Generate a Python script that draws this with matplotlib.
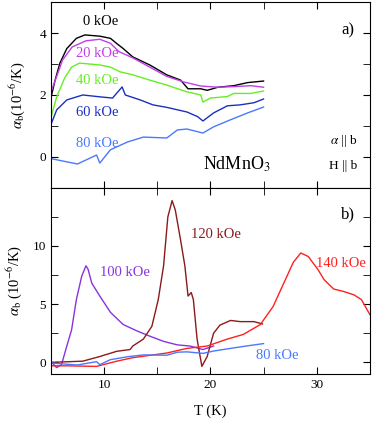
import matplotlib
matplotlib.use("Agg")
import matplotlib.pyplot as plt
from matplotlib.ticker import MultipleLocator, FixedLocator

plt.rcParams['font.family'] = ['Liberation Serif', 'DejaVu Serif']
plt.rcParams['mathtext.fontset'] = 'stix'

# ---- panel a) data ----
T0 = [5.07, 5.4, 5.85, 6.5, 7.4, 8.2, 9.6, 10.6, 11.2, 11.8, 12.7, 14.3, 15.9, 17.2, 17.9, 19.1, 19.7, 20.7, 22.2, 23.5, 25.0]
A0 = [2.0, 2.48, 3.03, 3.5, 3.83, 3.94, 3.9, 3.83, 3.66, 3.5, 3.23, 2.97, 2.65, 2.48, 2.2, 2.2, 2.15, 2.25, 2.3, 2.4, 2.45]

T20 = [5.07, 5.55, 6.1, 7.0, 8.3, 9.6, 10.6, 11.4, 12.7, 14.3, 15.9, 17.5, 19.1, 20.7, 22.2, 23.8, 25.0]
A20 = [2.16, 2.6, 3.13, 3.55, 3.75, 3.8, 3.67, 3.4, 3.2, 2.9, 2.6, 2.42, 2.29, 2.25, 2.27, 2.3, 2.25]

T40 = [5.07, 5.55, 6.3, 6.95, 7.7, 9.6, 10.6, 11.5, 12.7, 14.3, 15.9, 17.8, 19.1, 19.3, 20.0, 21.6, 22.2, 23.8, 25.0]
A40 = [1.35, 1.94, 2.55, 2.9, 3.03, 2.97, 2.9, 2.75, 2.65, 2.48, 2.32, 2.1, 2.0, 1.77, 1.9, 1.95, 2.05, 2.05, 2.13]

T60 = [5.07, 5.55, 6.5, 8.0, 9.6, 10.8, 11.7, 12.0, 13.4, 14.6, 15.9, 17.8, 18.8, 19.3, 20.3, 21.6, 22.8, 24.1, 25.0]
A60 = [1.1, 1.52, 1.84, 2.0, 1.94, 1.9, 2.26, 2.0, 1.84, 1.68, 1.6, 1.45, 1.3, 1.16, 1.42, 1.65, 1.68, 1.75, 1.87]

T80 = [5.07, 7.5, 9.3, 9.6, 10.6, 12.2, 13.7, 15.9, 16.9, 17.8, 19.3, 20.3, 21.9, 23.5, 25.0]
A80 = [-0.06, -0.23, 0.06, -0.2, 0.23, 0.48, 0.64, 0.61, 0.87, 0.9, 0.77, 0.97, 1.2, 1.42, 1.61]

# ---- panel b) data ----
T100 = [5.07, 5.54, 6.0, 6.5, 6.95, 7.4, 7.9, 8.3, 8.5, 8.85, 9.6, 10.6, 11.8, 13.1, 14.3, 15.6, 16.9, 18.1, 19.3, 20.3]
A100 = [0.0, -0.45, -0.2, 1.4, 2.8, 5.4, 7.4, 8.3, 8.0, 6.8, 5.7, 4.3, 3.25, 2.7, 2.25, 1.8, 1.5, 1.4, 1.1, 1.4]

T120 = [5.07, 8.0, 9.6, 11.2, 12.45, 12.7, 13.7, 14.5, 15.1, 15.6, 16.0, 16.4, 16.7, 17.2, 17.6, 17.9, 18.2, 18.4, 18.75, 19.2, 19.7, 20.3, 20.9, 21.9, 22.8, 24.1, 24.9]
A120 = [0.0, 0.1, 0.5, 0.95, 1.1, 1.4, 2.0, 3.1, 5.4, 8.3, 12.5, 13.9, 13.1, 10.5, 8.3, 5.7, 6.0, 5.4, 2.0, -0.35, 0.5, 2.5, 3.2, 3.6, 3.5, 3.5, 3.3]

T140 = [5.07, 6.5, 9.3, 11.2, 12.7, 15.9, 17.8, 19.7, 21.6, 23.1, 24.7, 25.9, 26.9, 27.8, 28.5, 29.2, 30.1, 30.7, 31.6, 32.5, 33.5, 34.2, 35.0]
A140 = [-0.3, -0.3, -0.35, 0.1, 0.4, 0.8, 1.2, 1.4, 2.0, 2.4, 3.25, 4.8, 6.8, 8.6, 9.4, 9.1, 8.0, 7.1, 6.3, 6.1, 5.8, 5.4, 4.1]

c0, c20, c40, c60, c80 = 'black', '#c13fe8', '#66ee22', '#1c2fbf', '#4a78ff'
c100, c120, c140 = '#8833dd', '#8b1a1a', '#ff2020'

fig = plt.figure(figsize=(3.74, 4.24), dpi=100)
axa = fig.add_axes([0.136, 0.557, 0.853, 0.438])
axb = fig.add_axes([0.136, 0.118, 0.853, 0.439])

lw = 1.0
axa.plot(T0, A0, color=c0, lw=lw)
axa.plot(T20, A20, color=c20, lw=lw)
axa.plot(T40, A40, color=c40, lw=lw)
axa.plot(T60, A60, color=c60, lw=lw)
axa.plot(T80, A80, color=c80, lw=lw)

axb.plot(T100, A100, color=c100, lw=lw)
axb.plot(T120, A120, color=c120, lw=lw)
axb.plot(T140, A140, color=c140, lw=lw)
axb.plot(T80, A80, color=c80, lw=lw)

for ax in (axa, axb):
    ax.set_xlim(5, 35)
    ax.xaxis.set_major_locator(MultipleLocator(10))
    ax.xaxis.set_minor_locator(MultipleLocator(5))
    ax.tick_params(which='both', direction='in', top=True, right=True, labelsize=9.5)
    ax.tick_params(which='major', length=5)
    ax.tick_params(which='minor', length=5)

axa.set_ylim(-1, 5)
axa.yaxis.set_major_locator(FixedLocator([0, 2, 4]))
axa.yaxis.set_minor_locator(FixedLocator([1, 3]))
axa.tick_params(labelbottom=False)
axb.set_ylim(-1, 15)
axb.yaxis.set_major_locator(FixedLocator([0, 5, 10]))
axb.yaxis.set_minor_locator(FixedLocator([2.5, 7.5, 12.5]))

axa.set_ylabel(r'$\alpha_{\rm b}$(10$^{-6}$/K)', fontsize=10.5, labelpad=9)
axb.set_ylabel(r'$\alpha_{\rm b}$ (10$^{-6}$/K)', fontsize=10.5, labelpad=6)
axb.set_xlabel('T (K)', fontsize=10.5, labelpad=10)

fs = 10.5
axa.text(9.7, 4.36, '0 kOe', color=c0, fontsize=fs, ha='center', va='center')
axa.text(9.4, 3.35, '20 kOe', color=c20, fontsize=fs, ha='center', va='center')
axa.text(9.4, 2.48, '40 kOe', color=c40, fontsize=fs, ha='center', va='center')
axa.text(9.4, 1.43, '60 kOe', color=c60, fontsize=fs, ha='center', va='center')
axa.text(9.4, 0.42, '80 kOe', color=c80, fontsize=fs, ha='center', va='center')
axa.text(32.9, 4.1, 'a)', fontsize=12, ha='center', va='center')
axa.text(33.8, 0.5, r'$\alpha$ || b', fontsize=9.5, ha='right', va='center')
axa.text(33.8, -0.3, 'H || b', fontsize=9.5, ha='right', va='center')
axa.text(22.5, -0.25, r'NdMnO$_3$', fontsize=13, ha='center', va='center')

axb.text(32.9, 12.7, 'b)', fontsize=12, ha='center', va='center')
axb.text(20.5, 11.0, '120 kOe', color=c120, fontsize=fs, ha='center', va='center')
axb.text(12.0, 7.75, '100 kOe', color=c100, fontsize=fs, ha='center', va='center')
axb.text(32.3, 8.5, '140 kOe', color=c140, fontsize=fs, ha='center', va='center')
axb.text(26.3, 0.6, '80 kOe', color=c80, fontsize=fs, ha='center', va='center')

fig.savefig('out.png', dpi=100)
